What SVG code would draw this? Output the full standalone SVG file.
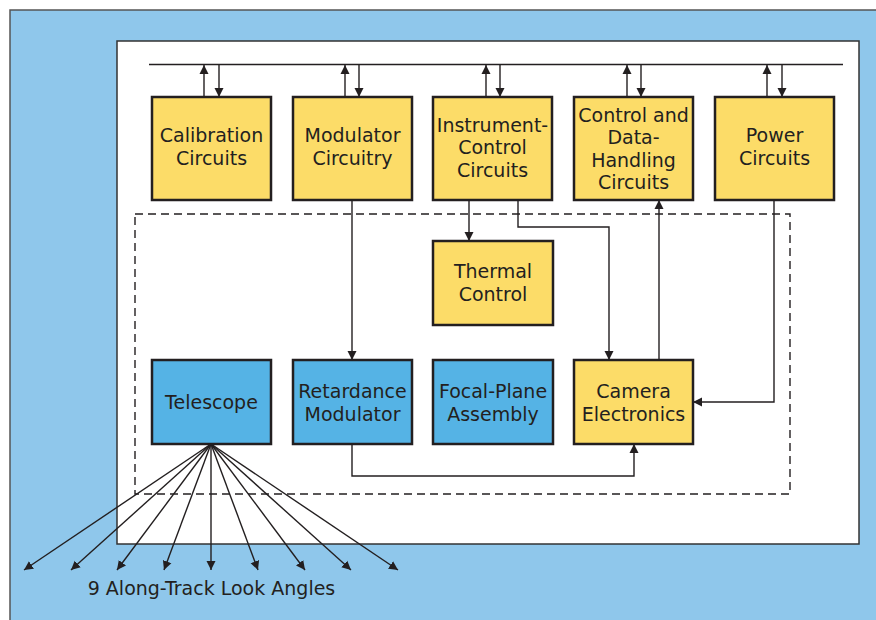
<svg xmlns="http://www.w3.org/2000/svg" width="876" height="620" viewBox="0 0 876 620">
<defs>
<marker id="ah" viewBox="0 0 10 10" refX="10" refY="5" markerWidth="9" markerHeight="10" markerUnits="userSpaceOnUse" orient="auto"><path d="M0,0 L10,5 L0,10 z" fill="#231f20"/></marker>
<style>
.y{fill:#fcdc68;stroke:#231f20;stroke-width:2.5}
.b{fill:#55b3e5;stroke:#231f20;stroke-width:2.5}
.t{font-family:"DejaVu Sans",sans-serif;font-size:19px;fill:#231f20;text-anchor:middle}
.c{fill:none;stroke:#231f20;stroke-width:1.4}
.a{marker-end:url(#ah)}
</style>
</defs>
<rect x="10" y="10" width="880" height="620" fill="#8fc7eb" stroke="#555" stroke-width="1.5"/>
<rect x="117" y="41" width="742" height="503" fill="#fff" stroke="#333" stroke-width="1.5"/>
<rect x="135" y="214" width="655" height="280" fill="none" stroke="#231f20" stroke-width="1.4" stroke-dasharray="8,5"/>

<g id="connectors">
<line class="c" x1="149" y1="64.5" x2="843" y2="64.5"/>
<line class="c a" x1="204" y1="97" x2="204" y2="65"/>
<line class="c a" x1="219" y1="65" x2="219" y2="97"/>
<line class="c a" x1="345" y1="97" x2="345" y2="65"/>
<line class="c a" x1="359" y1="65" x2="359" y2="97"/>
<line class="c a" x1="486" y1="97" x2="486" y2="65"/>
<line class="c a" x1="500" y1="65" x2="500" y2="97"/>
<line class="c a" x1="627" y1="97" x2="627" y2="65"/>
<line class="c a" x1="641" y1="65" x2="641" y2="97"/>
<line class="c a" x1="767" y1="97" x2="767" y2="65"/>
<line class="c a" x1="782" y1="65" x2="782" y2="97"/>
<line class="c a" x1="469" y1="200" x2="469" y2="241"/>
<polyline class="c a" points="518,200 518,227 609,227 609,360"/>
<line class="c a" x1="659" y1="360" x2="659" y2="200"/>
<polyline class="c a" points="774,200 774,402 693,402"/>
<line class="c a" x1="352" y1="200" x2="352" y2="360"/>
<polyline class="c a" points="352,444 352,476 634,476 634,444"/>
<line class="c a" x1="211" y1="444" x2="24" y2="570"/>
<line class="c a" x1="211" y1="444" x2="71" y2="570"/>
<line class="c a" x1="211" y1="444" x2="117" y2="570"/>
<line class="c a" x1="211" y1="444" x2="164" y2="570"/>
<line class="c a" x1="211" y1="444" x2="211" y2="570"/>
<line class="c a" x1="211" y1="444" x2="258" y2="570"/>
<line class="c a" x1="211" y1="444" x2="305" y2="570"/>
<line class="c a" x1="211" y1="444" x2="351" y2="570"/>
<line class="c a" x1="211" y1="444" x2="398" y2="570"/>
</g>

<g id="calibration"><rect class="y" x="152" y="97" width="119" height="103"/><text class="t" x="211.5" y="142">Calibration</text><text class="t" x="211.5" y="164.5">Circuits</text></g>
<g id="modulator-circuitry"><rect class="y" x="293" y="97" width="119" height="103"/><text class="t" x="352.5" y="142">Modulator</text><text class="t" x="352.5" y="164.5">Circuitry</text></g>
<g id="instrument-control"><rect class="y" x="433" y="97" width="119" height="103"/><text class="t" x="492.5" y="131.5">Instrument-</text><text class="t" x="492.5" y="154">Control</text><text class="t" x="492.5" y="176.5">Circuits</text></g>
<g id="control-data"><rect class="y" x="574" y="97" width="119" height="103"/><text class="t" x="633.5" y="121.5">Control and</text><text class="t" x="633.5" y="144">Data-</text><text class="t" x="633.5" y="166.5">Handling</text><text class="t" x="633.5" y="189">Circuits</text></g>
<g id="power"><rect class="y" x="715" y="97" width="119" height="103"/><text class="t" x="774.5" y="142">Power</text><text class="t" x="774.5" y="164.5">Circuits</text></g>
<g id="thermal"><rect class="y" x="433" y="241" width="120" height="84"/><text class="t" x="493" y="278">Thermal</text><text class="t" x="493" y="300.5">Control</text></g>
<g id="telescope"><rect class="b" x="152" y="360" width="119" height="84"/><text class="t" x="211.5" y="409">Telescope</text></g>
<g id="retardance"><rect class="b" x="293" y="360" width="119" height="84"/><text class="t" x="352.5" y="398">Retardance</text><text class="t" x="352.5" y="420.5">Modulator</text></g>
<g id="focal-plane"><rect class="b" x="433" y="360" width="120" height="84"/><text class="t" x="493" y="398">Focal-Plane</text><text class="t" x="493" y="420.5">Assembly</text></g>
<g id="camera"><rect class="y" x="574" y="360" width="119" height="84"/><text class="t" x="633.5" y="398">Camera</text><text class="t" x="633.5" y="420.5">Electronics</text></g>
<text class="t" x="211.5" y="595">9 Along-Track Look Angles</text>
</svg>
